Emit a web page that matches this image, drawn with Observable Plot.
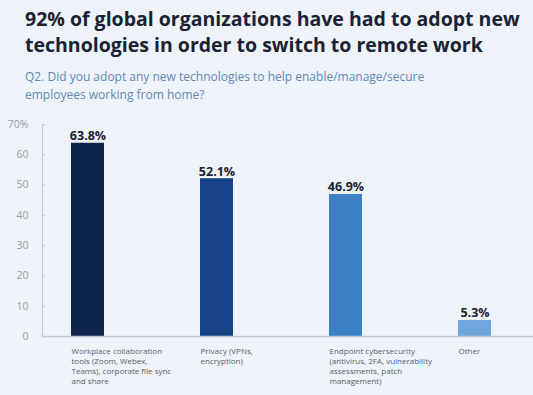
<!DOCTYPE html>
<html>
<head>
<meta charset="utf-8">
<script src="https://cdn.jsdelivr.net/npm/d3@7"></script>
<script src="https://cdn.jsdelivr.net/npm/@observablehq/plot@0.6"></script>
<style>
  html, body { margin: 0; padding: 0; background: #eef2f9; }
  body { width: 533px; height: 395px; overflow: hidden; font-family: "Open Sans", sans-serif; }
  #title { position: absolute; left: 25px; top: 6px; font-size: 19.5px; font-weight: 700; line-height: 26px; color: #1b2232; white-space: nowrap; letter-spacing: 0px; }
  #subtitle { position: absolute; left: 25px; top: 68px; font-size: 12px; line-height: 17.5px; color: #5f8ab3; }
  #chart { position: absolute; left: 0; top: 105px; }
</style>
</head>
<body>
<div id="title">92% of global organizations have had to adopt new<br>technologies in order to switch to remote work</div>
<div id="subtitle">Q2. Did you adopt any new technologies to help enable/manage/secure<br>employees working from home?</div>
<div id="chart"></div>
<script>
const categories = [
  "Workplace collaboration\ntools (Zoom, Webex,\nTeams), corporate file sync\nand share",
  "Privacy (VPNs,\nencryption)",
  "Endpoint cybersecurity\n(antivirus, 2FA, vulnerability\nassessments, patch\nmanagement)",
  "Other"
];
const values = [63.8, 52.1, 46.9, 5.3];
const colors = ["#0e2449", "#174389", "#3b7fc4", "#6ea7dd"];
const yTicks = [0, 10, 20, 30, 40, 50, 60, 70];

const data = categories.map((c, i) => ({cat: c, value: values[i]}));

const plot = Plot.plot({
  width: 533,
  height: 290,
  marginLeft: 42,
  marginRight: 0,
  marginTop: 19,
  marginBottom: 59,
  style: {background: "transparent", fontFamily: "Open Sans, sans-serif"},
  x: {domain: categories, paddingInner: 0.745, paddingOuter: 0.27, align: 0.414},
  y: {domain: [0, 70]},
  color: {type: "ordinal", domain: categories, range: colors},
  marks: [
    Plot.frame({anchor: "left", stroke: "#c5cad3", strokeWidth: 1.2}),
    Plot.axisY({ticks: yTicks, tickSize: -3, tickPadding: 17, stroke: "#c5cad3", fill: "#9a9ea6", fontSize: 10.5,
      tickFormat: d => d === 70 ? "70%" : String(d), label: null}),
    Plot.barY(data, {x: "cat", y: "value", fill: "cat"}),
    Plot.ruleY([0], {stroke: "#c5cad3", strokeWidth: 1.5}),
    Plot.axisX({tickSize: 0, tickPadding: 10, textAnchor: "start", dx: -16.5, fontSize: 8, lineHeight: 1.25, fill: "#5a5f68", label: null}),
    Plot.text(data, {x: "cat", y: "value", text: d => d.value.toFixed(1) + "%", lineAnchor: "bottom", dy: -3,
      fontSize: 12.5, fontWeight: 700, fill: "#1d2030"})
  ]
});
document.getElementById("chart").appendChild(plot);
</script>
</body>
</html>
